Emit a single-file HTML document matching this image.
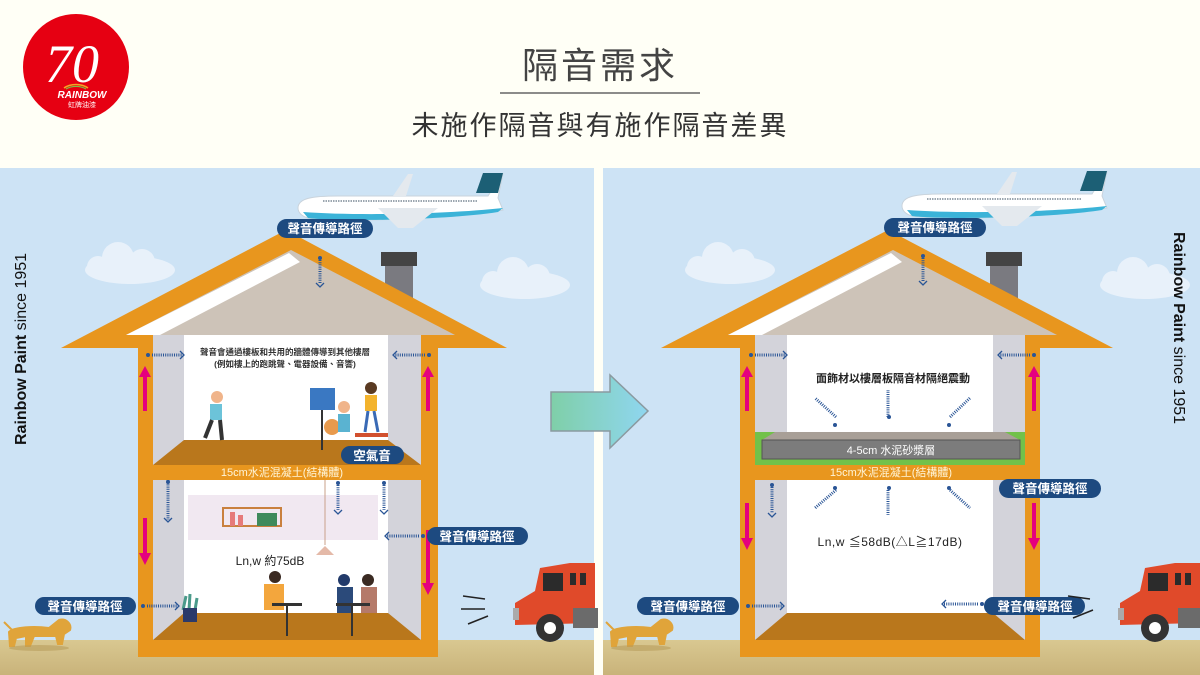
<!DOCTYPE html>
<html><head><meta charset="utf-8"><style>
html,body{margin:0;padding:0;background:#fffff6;}
svg{display:block;font-family:"Liberation Sans","Noto Sans CJK TC",sans-serif;}
</style></head><body>
<svg width="1200" height="675" viewBox="0 0 1200 675" xmlns="http://www.w3.org/2000/svg">
<defs>
<linearGradient id="gnd" x1="0" y1="0" x2="0" y2="1"><stop offset="0" stop-color="#d9c891"/><stop offset="1" stop-color="#c9b37a"/></linearGradient>
<linearGradient id="arr" x1="0" y1="0" x2="1" y2="0"><stop offset="0" stop-color="#7fcfa8"/><stop offset="1" stop-color="#8fd6f0"/></linearGradient>
<g id="cloud"><ellipse cx="0" cy="0" rx="45" ry="14" fill="#e8f1fa"/><circle cx="-12" cy="-12" r="16" fill="#e8f1fa"/><circle cx="12" cy="-8" r="13" fill="#e8f1fa"/><circle cx="-32" cy="-3" r="11" fill="#e8f1fa"/></g>
<g id="plane">
<path d="M0,20 C0,10 15,8 40,8 L190,8 L205,-15 L200,10 L205,22 C150,32 40,34 10,30 C3,28 0,24 0,20Z" fill="#fff" stroke="#c9d3dc" stroke-width="1"/>
<path d="M185,-15 L205,-15 L200,5 L178,5Z" fill="#1c5f75"/>
<path d="M5,24 C60,28 150,26 205,20 L200,24 C150,32 40,34 10,30Z" fill="#3bb3d8"/>
<path d="M80,20 L140,20 L115,40 L100,40Z" fill="#e4e9ee"/>
<path d="M95,8 L110,-14 L115,-14 L108,8Z" fill="#e4e9ee"/>
<line x1="25" y1="13" x2="180" y2="13" stroke="#7c8a96" stroke-width="1.5" stroke-dasharray="1.5 1"/>
</g>
<g id="truck">
<path d="M20,40 L40,28 L45,5 L75,0 L100,0 L100,60 L20,62Z" fill="#e04a2a"/>
<rect x="48" y="10" width="20" height="18" fill="#2b2b2b"/>
<rect x="75" y="10" width="6" height="12" fill="#2b2b2b"/><rect x="85" y="10" width="6" height="12" fill="#2b2b2b"/>
<rect x="78" y="45" width="25" height="20" fill="#6b6b6b"/>
<circle cx="55" cy="65" r="14" fill="#333"/><circle cx="55" cy="65" r="6" fill="#fff"/>
<rect x="18" y="45" width="6" height="12" fill="#aaa"/>
</g>
<g id="dog">
<path d="M5,20 C10,15 30,14 45,16 L55,8 C62,6 68,12 66,18 L60,22 L58,32 L54,32 L52,24 L30,24 L26,34 L22,34 L22,24 L12,26 L10,34 L6,34 Z M0,10 L8,18" fill="#e0a43a" stroke="#e0a43a" stroke-width="2"/>
<ellipse cx="35" cy="36" rx="30" ry="3" fill="#b89c5c" opacity=".6"/>
</g>
</defs>

<!-- header -->
<rect x="0" y="0" width="1200" height="168" fill="#fffff6"/>
<circle cx="76" cy="67" r="53" fill="#e60012"/>
<text x="72" y="82" font-family="Liberation Serif,serif" font-style="italic" font-size="54" fill="#fff" text-anchor="middle">70</text>
<path d="M64,88 A17,12 0 0 1 88,88" fill="none" stroke="#f5a623" stroke-width="1.5"/>
<path d="M66,89 A15,10 0 0 1 86,89" fill="none" stroke="#7ac143" stroke-width="1.2"/>
<text x="82" y="98" font-size="10" font-weight="bold" font-style="italic" fill="#fff" text-anchor="middle">RAINBOW</text>
<text x="82" y="107" font-size="7" fill="#fff" text-anchor="middle">虹牌油漆</text>

<text x="600" y="78" font-size="36" fill="#444" text-anchor="middle" letter-spacing="3">隔音需求</text>
<line x1="500" y1="93" x2="700" y2="93" stroke="#666" stroke-width="1.5"/>
<text x="600" y="135" font-size="27" fill="#333" text-anchor="middle" letter-spacing="2">未施作隔音與有施作隔音差異</text>

<!-- panels -->
<rect x="0" y="168" width="594" height="507" fill="#cde3f5"/>
<rect x="603" y="168" width="597" height="507" fill="#cde3f5"/>
<rect x="0" y="640" width="594" height="35" fill="url(#gnd)"/>
<rect x="603" y="640" width="597" height="35" fill="url(#gnd)"/>

<use href="#cloud" x="130" y="270"/><use href="#cloud" x="525" y="285"/>
<use href="#cloud" x="730" y="270"/><use href="#cloud" x="1145" y="285"/>
<use href="#plane" x="298" y="188"/><use href="#plane" x="902" y="186"/>

<!-- vertical text -->
<text transform="translate(26,445) rotate(-90)" font-size="16" fill="#111"><tspan font-weight="bold">Rainbow Paint</tspan> since 1951</text>
<text transform="translate(1174,232) rotate(90)" font-size="16" fill="#111"><tspan font-weight="bold">Rainbow Paint</tspan> since 1951</text>

<!-- LEFT HOUSE -->
<g>
<rect x="381" y="252" width="36" height="14" fill="#444"/><rect x="385" y="266" width="28" height="40" fill="#7a7a80"/>
<polygon points="61,348 286,230 507,348" fill="#e8961e"/>
<polygon points="126,335 291,250 455,335" fill="#cdc3b8"/>
<polygon points="126,335 289,253 300,262 160,335" fill="#fff"/>
<rect x="138" y="335" width="300" height="322" fill="#e8961e"/>
<rect x="153" y="335" width="268" height="305" fill="#d3d3da"/>
<rect x="184" y="335" width="204" height="130" fill="#fff"/>
<rect x="184" y="480" width="204" height="135" fill="#fff"/>
<rect x="138" y="465" width="300" height="15" fill="#e8961e"/>
<polygon points="184,440 388,440 421,465 153,465" fill="#b9771c"/>
<polygon points="184,613 388,613 421,640 153,640" fill="#b9771c"/>
<!-- wall tiles -->
<g fill="#f1e8f1"><rect x="188" y="495" width="190" height="45"/></g>
<rect x="223" y="508" width="58" height="18" fill="none" stroke="#c9803e" stroke-width="2"/>
<rect x="230" y="512" width="5" height="14" fill="#e67a7a"/><rect x="238" y="515" width="5" height="11" fill="#e67a7a"/>
<rect x="257" y="513" width="20" height="13" fill="#3f8a5c"/>
<line x1="325" y1="480" x2="325" y2="545" stroke="#c9a08a"/>
<path d="M316,555 L325,546 L334,555Z" fill="#e4b9a8"/>
<text x="285" y="355" font-size="8.5" font-weight="bold" fill="#333" text-anchor="middle">聲音會通過樓板和共用的牆體傳導到其他樓層</text>
<text x="285" y="367" font-size="8.5" font-weight="bold" fill="#333" text-anchor="middle">(例如樓上的跑跳聲、電器設備、音響)</text>
<text x="282" y="476" font-size="11" fill="#fff5d8" text-anchor="middle">15cm水泥混凝土(結構體)</text>
<text x="270" y="565" font-size="12" fill="#222" text-anchor="middle">Ln,w 約75dB</text>
<!-- people (simple) -->
<g fill="#5ab3d1"><circle cx="217" cy="397" r="6" fill="#f0b48a"/><rect x="210" y="404" width="12" height="16" fill="#6cc3d9"/><path d="M212,420 L205,438 M220,420 L222,440" stroke="#333" stroke-width="4"/></g>
<rect x="310" y="388" width="25" height="22" fill="#3a78c2"/><line x1="322" y1="410" x2="322" y2="450" stroke="#333" stroke-width="2"/>
<circle cx="332" cy="427" r="8" fill="#e89a4d"/>
<circle cx="344" cy="407" r="6" fill="#f0b48a"/><rect x="338" y="414" width="12" height="18" fill="#5ab3d1"/>
<circle cx="371" cy="388" r="6" fill="#5a3a22"/><rect x="365" y="395" width="12" height="16" fill="#f3b32d"/><path d="M368,411 L365,432 M374,411 L378,432" stroke="#3a6ab5" stroke-width="3"/>
<rect x="355" y="433" width="33" height="4" fill="#d2502e"/>
<circle cx="275" cy="577" r="6" fill="#3a2a22"/><rect x="264" y="584" width="20" height="26" fill="#f3a63d"/>
<rect x="272" y="603" width="30" height="3" fill="#333"/><line x1="287" y1="606" x2="287" y2="636" stroke="#333" stroke-width="2"/>
<circle cx="344" cy="580" r="6" fill="#223a6a"/><rect x="337" y="587" width="16" height="26" fill="#2b4a7a"/>
<circle cx="368" cy="580" r="6" fill="#3a2a22"/><rect x="361" y="587" width="16" height="26" fill="#b57a6a"/>
<rect x="336" y="603" width="34" height="3" fill="#333"/><line x1="352" y1="606" x2="352" y2="636" stroke="#333" stroke-width="2"/>
<path d="M183,610 L186,596 M189,610 L190,594 M195,610 L197,598" stroke="#4a9a8a" stroke-width="3"/><rect x="183" y="608" width="14" height="14" fill="#2b3a6a"/>
</g>

<!-- RIGHT HOUSE -->
<g>
<rect x="986" y="252" width="36" height="14" fill="#444"/><rect x="990" y="266" width="28" height="40" fill="#7a7a80"/>
<polygon points="661,348 888,230 1113,348" fill="#e8961e"/>
<polygon points="728,335 893,250 1057,335" fill="#cdc3b8"/>
<polygon points="728,335 891,253 902,262 762,335" fill="#fff"/>
<rect x="740" y="335" width="300" height="322" fill="#e8961e"/>
<rect x="755" y="335" width="270" height="305" fill="#d3d3da"/>
<rect x="787" y="335" width="206" height="130" fill="#fff"/>
<rect x="787" y="480" width="206" height="135" fill="#fff"/>
<rect x="740" y="465" width="300" height="15" fill="#e8961e"/>
<polygon points="787,613 993,613 1025,640 755,640" fill="#b9771c"/>
<rect x="755" y="432" width="270" height="33" fill="#72c14a"/>
<polygon points="762,440 775,432 1005,432 1020,440" fill="#a89f97"/>
<rect x="762" y="440" width="258" height="19" fill="#7c7c7c" stroke="#555" stroke-width="1"/>
<text x="891" y="454" font-size="11" fill="#fff" text-anchor="middle">4-5cm 水泥砂漿層</text>
<text x="891" y="476" font-size="11" fill="#fff5d8" text-anchor="middle">15cm水泥混凝土(結構體)</text>
<text x="893" y="382" font-size="11" font-weight="bold" fill="#222" text-anchor="middle">面飾材以樓層板隔音材隔絕震動</text>
<text x="890" y="546" font-size="12" fill="#222" text-anchor="middle" letter-spacing="0.5">Ln,w ≦58dB(△L≧17dB)</text>
</g>

<!-- wavy arrows -->
<g stroke="#2a5596" fill="none" stroke-width="3" stroke-dasharray="1 1.2">
<line x1="320" y1="260" x2="320" y2="284"/>
<line x1="152" y1="355" x2="182" y2="355"/><line x1="425" y1="355" x2="395" y2="355"/>
<line x1="168" y1="520" x2="168" y2="560" transform="translate(0,-40)"/>
<line x1="338" y1="485" x2="338" y2="510"/><line x1="384" y1="485" x2="384" y2="510"/>
<line x1="419" y1="591" x2="387" y2="591" transform="translate(0,-55)"/>
<line x1="147" y1="606" x2="177" y2="606"/>
<line x1="923" y1="258" x2="923" y2="282"/>
<line x1="755" y1="355" x2="785" y2="355"/><line x1="1030" y1="355" x2="1000" y2="355"/>
<line x1="772" y1="487" x2="772" y2="513"/>
<line x1="836" y1="427" x2="815" y2="408" transform="translate(0,-10)"/><line x1="888" y1="427" x2="888" y2="400" transform="translate(0,-10)"/><line x1="950" y1="427" x2="970" y2="408" transform="translate(0,-10)"/>
<line x1="836" y1="490" x2="815" y2="508"/><line x1="888" y1="490" x2="888" y2="515"/><line x1="950" y1="490" x2="970" y2="508"/>
<line x1="752" y1="606" x2="782" y2="606"/>
<line x1="978" y1="604" x2="944" y2="604"/>
</g>
<g fill="#2a5596">
<circle cx="320" cy="258" r="2"/><circle cx="148" cy="355" r="2"/><circle cx="429" cy="355" r="2"/><circle cx="168" cy="482" r="2"/><circle cx="338" cy="483" r="2"/><circle cx="384" cy="483" r="2"/><circle cx="423" cy="536" r="2"/><circle cx="143" cy="606" r="2"/>
<circle cx="923" cy="256" r="2"/><circle cx="751" cy="355" r="2"/><circle cx="1034" cy="355" r="2"/><circle cx="772" cy="485" r="2"/><circle cx="835" cy="425" r="2"/><circle cx="889" cy="417" r="2"/><circle cx="949" cy="425" r="2"/><circle cx="835" cy="488" r="2"/><circle cx="889" cy="488" r="2"/><circle cx="949" cy="488" r="2"/><circle cx="748" cy="606" r="2"/><circle cx="982" cy="604" r="2"/>
</g>
<g stroke="#2a5596" fill="none" stroke-width="1.3">
<path d="M316,283 L320,287 L324,283"/><path d="M180,351 L184,355 L180,359"/><path d="M397,351 L393,355 L397,359"/>
<path d="M164,518 L168,522 L172,518"/><path d="M334,510 L338,514 L342,510"/><path d="M380,510 L384,514 L388,510"/>
<path d="M389,532 L385,536 L389,540"/><path d="M175,602 L179,606 L175,610"/>
<path d="M919,281 L923,285 L927,281"/><path d="M783,351 L787,355 L783,359"/><path d="M1002,351 L998,355 L1002,359"/>
<path d="M768,513 L772,517 L776,513"/><path d="M780,602 L784,606 L780,610"/><path d="M946,600 L942,604 L946,608"/>
</g>

<!-- pink arrows -->
<g fill="#e5007e">
<rect x="143" y="375" width="4" height="36"/><polygon points="139,377 145,366 151,377"/>
<rect x="426" y="375" width="4" height="36"/><polygon points="422,377 428,366 434,377"/>
<rect x="143" y="518" width="4" height="37"/><polygon points="139,553 145,565 151,553"/>
<rect x="426" y="530" width="4" height="55"/><polygon points="422,583 428,595 434,583"/>
<rect x="745" y="375" width="4" height="36"/><polygon points="741,377 747,366 753,377"/>
<rect x="1032" y="375" width="4" height="36"/><polygon points="1028,377 1034,366 1040,377"/>
<rect x="745" y="503" width="4" height="37"/><polygon points="741,538 747,550 753,538"/>
<rect x="1032" y="503" width="4" height="37"/><polygon points="1028,538 1034,550 1040,538"/>
</g>

<!-- labels -->
<g font-size="12.5" fill="#fff" text-anchor="middle" font-weight="bold">
<rect x="277" y="219" width="96" height="19" rx="9.5" fill="#1d4a80"/><text x="325" y="233">聲音傳導路徑</text>
<rect x="341" y="446" width="63" height="18" rx="9" fill="#1d4a80"/><text x="372" y="460">空氣音</text>
<rect x="427" y="527" width="101" height="18" rx="9" fill="#1d4a80"/><text x="477" y="541">聲音傳導路徑</text>
<rect x="35" y="597" width="101" height="18" rx="9" fill="#1d4a80"/><text x="85" y="611">聲音傳導路徑</text>
<rect x="884" y="218" width="102" height="19" rx="9.5" fill="#1d4a80"/><text x="935" y="232">聲音傳導路徑</text>
<rect x="999" y="479" width="102" height="19" rx="9.5" fill="#1d4a80"/><text x="1050" y="493">聲音傳導路徑</text>
<rect x="637" y="597" width="102" height="18" rx="9" fill="#1d4a80"/><text x="688" y="611">聲音傳導路徑</text>
<rect x="984" y="597" width="101" height="18" rx="9" fill="#1d4a80"/><text x="1035" y="611">聲音傳導路徑</text>
</g>

<!-- animals/trucks -->
<use href="#dog" x="4" y="612"/><use href="#dog" x="606" y="612"/>
<use href="#truck" x="495" y="563"/><use href="#truck" x="1100" y="563"/>
<g stroke="#222" stroke-width="1.5"><line x1="463" y1="596" x2="485" y2="599"/><line x1="461" y1="609" x2="485" y2="609"/><line x1="468" y1="624" x2="488" y2="616"/>
<line x1="1068" y1="596" x2="1090" y2="599"/><line x1="1073" y1="618" x2="1093" y2="610"/></g>

<!-- big arrow -->
<polygon points="551,392 610,392 610,375 648,411 610,448 610,431 551,431" fill="url(#arr)" stroke="#8a9aa0" stroke-width="1.5"/>
</svg>
</body></html>
